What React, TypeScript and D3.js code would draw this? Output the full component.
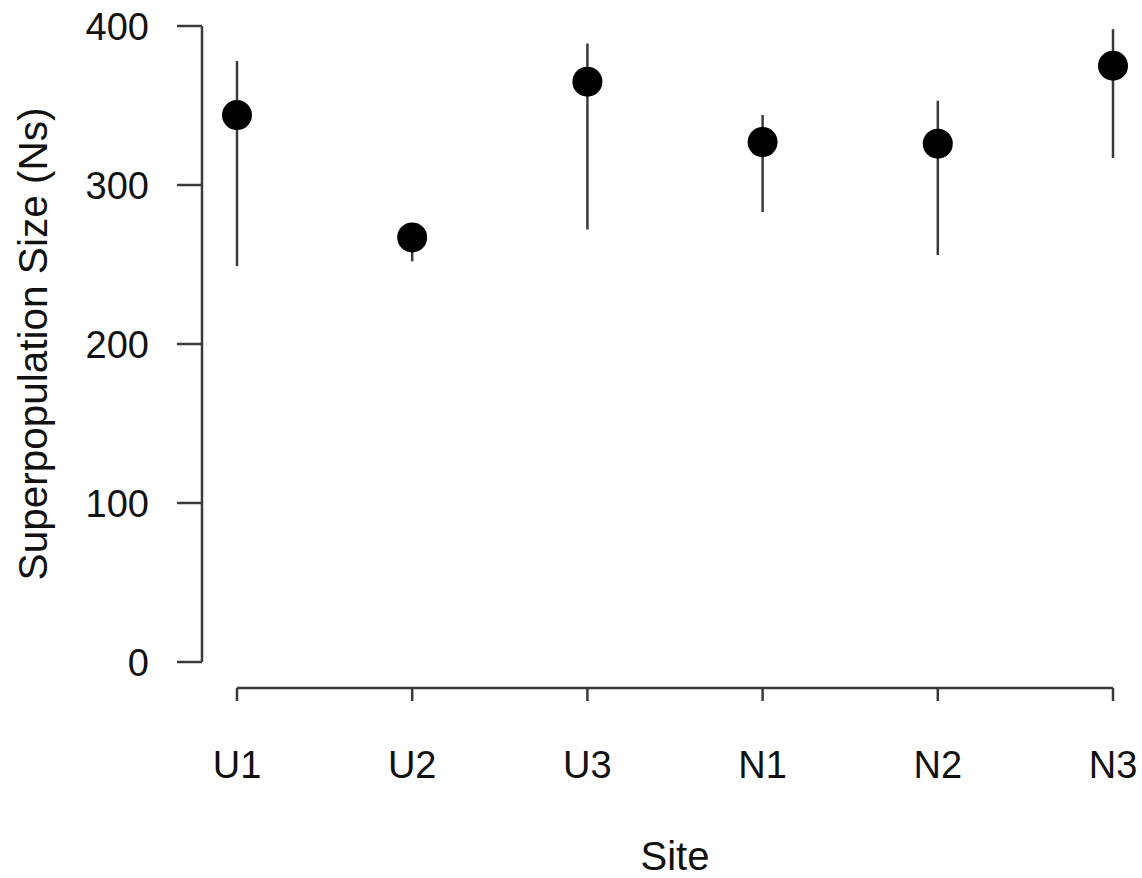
import React from "react";
import * as d3 from "d3";

const sites = ["U1", "U2", "U3", "N1", "N2", "N3"];
const estimates = [344, 267, 365, 327, 326, 375];
const lower = [249, 252, 272, 283, 256, 317];
const upper = [378, 274, 389, 344, 353, 398];
const yTicks = [0, 100, 200, 300, 400];

const W = 1142;
const H = 878;
const FONT = "'Liberation Sans', Arial, Helvetica, sans-serif";

export default function App() {
  const y = d3.scaleLinear().domain([0, 400]).range([662, 26]);
  const x = d3.scalePoint<string>().domain(sites).range([237, 1113]);
  const axisX = 202;
  const axisY = 688;
  const stroke = "#3a3a3a";

  return (
    <svg
      width={W}
      height={H}
      style={{ position: "absolute", left: 0, top: 0, background: "#fff" }}
      fontFamily={FONT}
    >
      {/* Y axis */}
      <line x1={axisX} x2={axisX} y1={y(400)} y2={y(0)} stroke={stroke} strokeWidth={2.5} />
      {yTicks.map((t) => (
        <g key={t}>
          <line x1={axisX - 25} x2={axisX} y1={y(t)} y2={y(t)} stroke={stroke} strokeWidth={2.5} />
          <text x={149} y={y(t)} dy="0.37em" textAnchor="end" fontSize={38} fill="#111">
            {t}
          </text>
        </g>
      ))}
      <text
        transform={`translate(47, ${y(200)}) rotate(-90)`}
        textAnchor="middle"
        fontSize={40.5}
        fill="#111"
      >
        Superpopulation Size (Ns)
      </text>

      {/* X axis */}
      <line x1={x(sites[0])!} x2={x(sites[sites.length - 1])!} y1={axisY} y2={axisY} stroke={stroke} strokeWidth={2.5} />
      {sites.map((s) => (
        <g key={s}>
          <line x1={x(s)!} x2={x(s)!} y1={axisY} y2={axisY + 13} stroke={stroke} strokeWidth={2.5} />
          <text x={x(s)!} y={778} textAnchor="middle" fontSize={38} fill="#111">
            {s}
          </text>
        </g>
      ))}
      <text x={(x(sites[0])! + x(sites[sites.length - 1])!) / 2} y={870} textAnchor="middle" fontSize={40} fill="#111">
        Site
      </text>

      {/* Error bars and points */}
      {sites.map((s, i) => (
        <g key={s}>
          <line x1={x(s)!} x2={x(s)!} y1={y(lower[i])} y2={y(upper[i])} stroke={stroke} strokeWidth={2.5} />
          <circle cx={x(s)!} cy={y(estimates[i])} r={15} fill="#000" />
        </g>
      ))}
    </svg>
  );
}
